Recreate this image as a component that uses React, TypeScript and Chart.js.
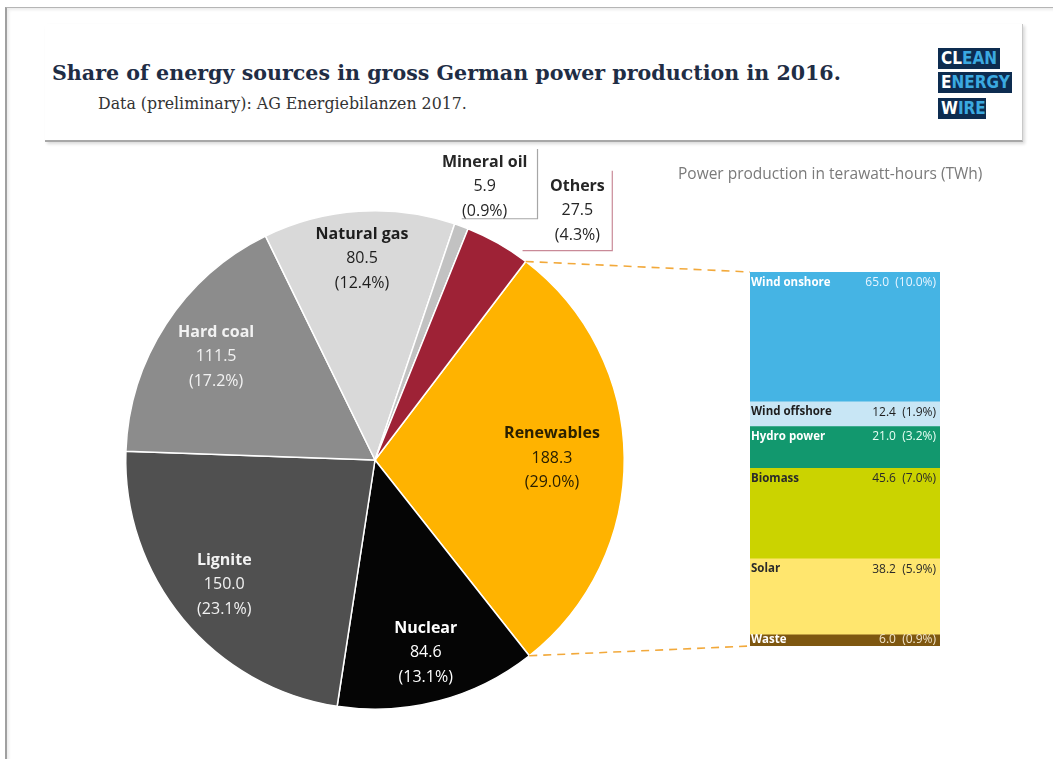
import React, { useEffect, useRef } from "react";
import { Chart, registerables } from "chart.js";

Chart.register(...registerables);

// ---- Data ----
const pieLabels = ["Renewables", "Nuclear", "Lignite", "Hard coal", "Natural gas", "Mineral oil", "Others"];
const pieValues = [188.3, 84.6, 150.0, 111.5, 80.5, 5.9, 27.5];
const piePercents = ["29.0", "13.1", "23.1", "17.2", "12.4", "0.9", "4.3"];

const renewLabels = ["Wind onshore", "Wind offshore", "Hydro power", "Biomass", "Solar", "Waste"];
const renewValues = [65.0, 12.4, 21.0, 45.6, 38.2, 6.0];
const renewPercents = ["10.0", "1.9", "3.2", "7.0", "5.9", "0.9"];

// ---- Styles ----
const pieColors = ["#FFB300", "#050505", "#505050", "#8C8C8C", "#D9D9D9", "#C2C2C2", "#9E2236"];
const pieTextColors = ["#2b2000", "#ffffff", "#f2f2f2", "#f2f2f2", "#1e1e1e", "#262626", "#262626"];
const insideLabelRadius = [0.71, 0.8, 0.785, 0.76, 0.81];
const outsideLabelPos: Record<number, [number, number]> = { 5: [0.44, -1.096], 6: [0.812, -1.0] };

const renewColors = ["#45B4E4", "#C8E6F5", "#12986E", "#CBD300", "#FFE66E", "#7E5710"];
const renewNameColors = ["#ffffff", "#1e1e1e", "#ffffff", "#2a2a2a", "#2a2a2a", "#ffffff"];
const renewValueColors = ["#e8f4ff", "#1e1e1e", "#e8fff4", "#2a2a2a", "#2a2a2a", "#f2e6cc"];

const W = 1053;
const H = 759;
const BAR_BOX = { left: 750, top: 272, width: 190, height: 374 };
const FONT = '"Open Sans", "Noto Sans", sans-serif';

const pieLabelPlugin = {
  id: "pieLabelPlugin",
  beforeDatasetsDraw(chart: any) {
    const ctx = chart.ctx as CanvasRenderingContext2D;
    const a = chart.getDatasetMeta(0).data[0];
    if (!a) return;
    const { x, y, outerRadius: R } = a.getProps(["x", "y", "outerRadius"], true);
    const s = R / 250;
    ctx.save();
    ctx.lineWidth = 1.2;
    // Mineral oil callout box
    ctx.strokeStyle = "#a6a6a6";
    ctx.beginPath();
    ctx.moveTo(x + 163 * s, y - 312 * s);
    ctx.lineTo(x + 163 * s, y - 242 * s);
    ctx.lineTo(x + 87 * s, y - 242 * s);
    ctx.stroke();
    // Others callout box
    ctx.strokeStyle = "#c98a98";
    ctx.beginPath();
    ctx.moveTo(x + 238 * s, y - 290 * s);
    ctx.lineTo(x + 238 * s, y - 210 * s);
    ctx.lineTo(x + 148 * s, y - 210 * s);
    ctx.stroke();
    ctx.restore();
  },
  afterDatasetsDraw(chart: any) {
    const ctx = chart.ctx as CanvasRenderingContext2D;
    const arcs = chart.getDatasetMeta(0).data as any[];
    ctx.save();
    ctx.textAlign = "center";
    ctx.textBaseline = "middle";
    arcs.forEach((arc, i) => {
      const { x, y, startAngle, endAngle, outerRadius } = arc.getProps(
        ["x", "y", "startAngle", "endAngle", "outerRadius"],
        true
      );
      const mid = (startAngle + endAngle) / 2;
      let lx: number, ly: number;
      const out = outsideLabelPos[i];
      if (out) {
        lx = x + out[0] * outerRadius;
        ly = y + out[1] * outerRadius;
      } else {
        const r = insideLabelRadius[i] * outerRadius;
        lx = x + Math.cos(mid) * r;
        ly = y + Math.sin(mid) * r;
      }
      ctx.fillStyle = pieTextColors[i];
      ctx.font = `bold 16px ${FONT}`;
      ctx.fillText(pieLabels[i], lx, ly - 24.5);
      ctx.font = `16px ${FONT}`;
      ctx.fillText(pieValues[i].toFixed(1), lx, ly);
      ctx.fillText(`(${piePercents[i]}%)`, lx, ly + 24.5);
    });
    // dashed connectors from renewables slice to stacked bar
    const ren = arcs[0];
    if (ren) {
      const { x, y, startAngle, endAngle, outerRadius } = ren.getProps(
        ["x", "y", "startAngle", "endAngle", "outerRadius"],
        true
      );
      ctx.strokeStyle = "#F2A93B";
      ctx.lineWidth = 1.6;
      ctx.setLineDash([8, 6]);
      ctx.beginPath();
      ctx.moveTo(x + Math.cos(startAngle) * outerRadius, y + Math.sin(startAngle) * outerRadius);
      ctx.lineTo(BAR_BOX.left, BAR_BOX.top);
      ctx.moveTo(x + Math.cos(endAngle) * outerRadius, y + Math.sin(endAngle) * outerRadius);
      ctx.lineTo(BAR_BOX.left, BAR_BOX.top + BAR_BOX.height);
      ctx.stroke();
    }
    ctx.restore();
  },
};

const barLabelPlugin = {
  id: "barLabelPlugin",
  afterDatasetsDraw(chart: any) {
    const ctx = chart.ctx as CanvasRenderingContext2D;
    ctx.save();
    ctx.textBaseline = "middle";
    chart.data.datasets.forEach((_ds: any, i: number) => {
      const bar = chart.getDatasetMeta(i).data[0] as any;
      if (!bar) return;
      const { x, y, base, width } = bar.getProps(["x", "y", "base", "width"], true);
      const top = Math.min(y, base);
      const h = Math.abs(base - y);
      const left = x - width / 2;
      const right = x + width / 2;
      const ty = top + Math.min(11, h / 2);
      ctx.font = `bold 11.5px ${FONT}`;
      ctx.fillStyle = renewNameColors[i];
      ctx.textAlign = "left";
      ctx.fillText(renewLabels[i], left + 1, ty);
      ctx.font = `12px ${FONT}`;
      ctx.fillStyle = renewValueColors[i];
      ctx.textAlign = "right";
      ctx.fillText(`${renewValues[i].toFixed(1)}  (${renewPercents[i]}%)`, right - 4, ty);
    });
    ctx.restore();
  },
};

const logoBox = (first: string, rest: string, top: number, width: number) => (
  <div
    style={{
      position: "absolute",
      left: 938,
      top,
      width,
      height: 21,
      background: "#0D2C50",
      fontFamily: '"Liberation Sans Narrow", "DejaVu Sans Condensed", "Roboto", sans-serif',
      fontWeight: 700,
      fontSize: 17,
      lineHeight: "21px",
      paddingLeft: 3,
      boxSizing: "border-box",
      letterSpacing: 0,
      whiteSpace: "nowrap",
    }}
  >
    <span style={{ color: "#ffffff" }}>{first}</span>
    <span style={{ color: "#3BA9E0" }}>{rest}</span>
  </div>
);

export default function App() {
  const pieRef = useRef<HTMLCanvasElement>(null);
  const barRef = useRef<HTMLCanvasElement>(null);

  useEffect(() => {
    const pie = new Chart(pieRef.current as HTMLCanvasElement, {
      type: "pie",
      data: {
        labels: pieLabels,
        datasets: [
          {
            data: pieValues,
            backgroundColor: pieColors,
            borderColor: "#ffffff",
            borderWidth: 1.5,
          },
        ],
      },
      options: {
        responsive: false,
        animation: false,
        devicePixelRatio: 1,
        rotation: 37.2,
        layout: { padding: { left: 125, right: 428, top: 210, bottom: 49 } },
        plugins: { legend: { display: false }, tooltip: { enabled: false } },
      },
      plugins: [pieLabelPlugin],
    } as any);

    const total = renewValues.reduce((a, b) => a + b, 0);
    const bar = new Chart(barRef.current as HTMLCanvasElement, {
      type: "bar",
      data: {
        labels: ["Renewables"],
        datasets: renewLabels.map((l, i) => ({
          label: l,
          data: [renewValues[i]],
          backgroundColor: renewColors[i],
          borderWidth: 0,
          barPercentage: 1,
          categoryPercentage: 1,
          stack: "r",
        })),
      },
      options: {
        responsive: false,
        animation: false,
        devicePixelRatio: 1,
        layout: { padding: 0 },
        scales: {
          x: { display: false, stacked: true },
          y: { display: false, stacked: true, min: 0, max: total, reverse: true },
        },
        plugins: { legend: { display: false }, tooltip: { enabled: false } },
      },
      plugins: [barLabelPlugin],
    } as any);

    return () => {
      pie.destroy();
      bar.destroy();
    };
  }, []);

  return (
    <div
      style={{
        position: "absolute",
        left: 0,
        top: 0,
        width: W,
        height: H,
        overflow: "hidden",
        background: "#ffffff",
      }}
    >
      {/* outer frame */}
      <div
        style={{
          position: "absolute",
          left: 5,
          top: 7,
          width: W,
          height: H,
          borderTop: "1.5px solid #b5b5b5",
          borderLeft: "2px solid #a0a0a0",
          boxShadow: "inset 2px 2px 3px rgba(0,0,0,0.08)",
        }}
      />
      {/* header card */}
      <div
        style={{
          position: "absolute",
          left: 45,
          top: 24,
          width: 977,
          height: 116,
          borderRight: "1px solid #c8c8c8",
          borderBottom: "2px solid #a8a8a8",
          boxShadow: "2px 2px 3px rgba(0,0,0,0.15)",
        }}
      />
      <div
        style={{
          position: "absolute",
          left: 52,
          top: 62,
          fontFamily: '"DejaVu Serif", "Liberation Serif", serif',
          fontWeight: 700,
          fontSize: 20.6,
          lineHeight: "22px",
          color: "#1F2D45",
          whiteSpace: "nowrap",
        }}
      >
        Share of energy sources in gross German power production in 2016.
      </div>
      <div
        style={{
          position: "absolute",
          left: 98,
          top: 95,
          fontFamily: '"DejaVu Serif", "Liberation Serif", serif',
          fontSize: 15.8,
          lineHeight: "18px",
          color: "#333333",
          whiteSpace: "nowrap",
        }}
      >
        Data (preliminary): AG Energiebilanzen 2017.
      </div>
      {logoBox("CL", "EAN", 48, 62)}
      {logoBox("E", "NERGY", 72, 74)}
      {logoBox("W", "IRE", 98, 48)}

      <canvas
        ref={pieRef}
        width={W}
        height={H}
        style={{ position: "absolute", left: 0, top: 0, width: W, height: H }}
      />
      <canvas
        ref={barRef}
        width={BAR_BOX.width}
        height={BAR_BOX.height}
        style={{
          position: "absolute",
          left: BAR_BOX.left,
          top: BAR_BOX.top,
          width: BAR_BOX.width,
          height: BAR_BOX.height,
        }}
      />
      <div
        style={{
          position: "absolute",
          left: 678,
          top: 162,
          fontFamily: FONT,
          fontSize: 15.5,
          lineHeight: "22px",
          color: "#7a7a7a",
          whiteSpace: "nowrap",
        }}
      >
        Power production in terawatt-hours (TWh)
      </div>
    </div>
  );
}
